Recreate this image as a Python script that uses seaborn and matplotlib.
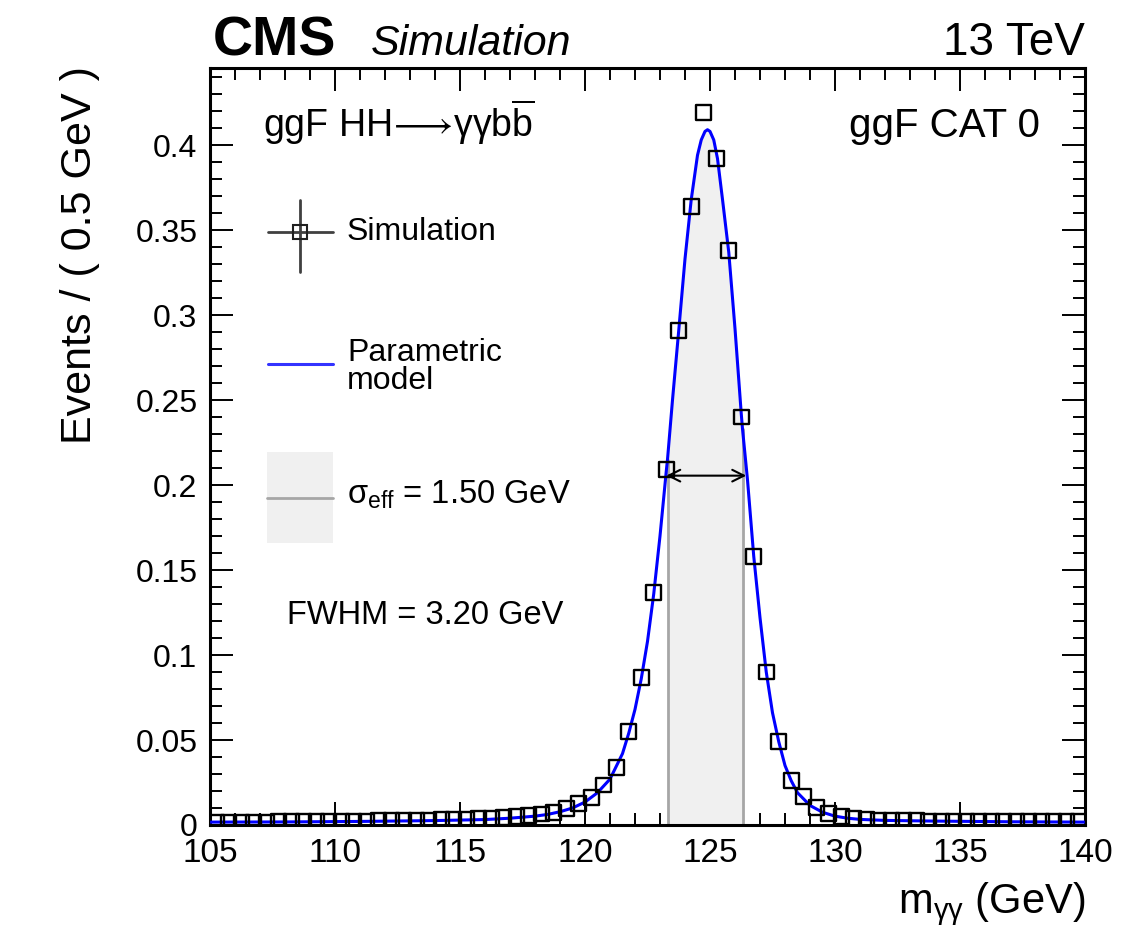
import numpy as np
import matplotlib
matplotlib.use("Agg")
import matplotlib.pyplot as plt
import seaborn as sns
from matplotlib.ticker import MultipleLocator, FuncFormatter
from matplotlib.patches import Rectangle

# ---------------- data ----------------
bin_centers = [105.25 + 0.5 * i for i in range(70)]
sim_values = [
    0.0015, 0.0016, 0.0016, 0.0017, 0.0017, 0.0018, 0.0019, 0.0019, 0.0020, 0.0021,
    0.0021, 0.0022, 0.0023, 0.0024, 0.0025, 0.0026, 0.0027, 0.0029, 0.0030, 0.0032,
    0.0034, 0.0036, 0.0039, 0.0043, 0.0048, 0.0055, 0.0065, 0.0075, 0.0095, 0.0125,
    0.0160, 0.0235, 0.0340, 0.0550, 0.0870, 0.1370, 0.2090, 0.2910, 0.3640, 0.4190,
    0.3920, 0.3380, 0.2400, 0.1580, 0.0900, 0.0490, 0.0260, 0.0170, 0.0105, 0.0068,
    0.0050, 0.0038, 0.0032, 0.0028, 0.0026, 0.0025, 0.0024, 0.0023, 0.0023, 0.0022,
    0.0021, 0.0021, 0.0020, 0.0020, 0.0019, 0.0019, 0.0019, 0.0018, 0.0018, 0.0018,
]

curve_x = [105, 108, 111, 114, 116, 117, 118, 118.5, 119, 119.5, 120, 120.5, 121,
           121.5, 121.75, 122.0, 122.25, 122.5, 122.75, 123.0, 123.25, 123.3, 123.5,
           123.75, 124.0, 124.25, 124.5, 124.65, 124.8, 124.9, 125.0, 125.15, 125.3,
           125.5, 125.75, 126.0, 126.25, 126.3, 126.5, 126.75, 127.0, 127.25, 127.5,
           127.75, 128.0, 128.25, 128.5, 129.0, 129.5, 130.0, 130.5, 131.0, 132.0,
           134.0, 137.0, 140.0]
curve_y = [0.0017, 0.0018, 0.0021, 0.0026, 0.0032, 0.0040, 0.0052, 0.0062, 0.0078,
           0.0100, 0.0135, 0.0190, 0.0270, 0.0420, 0.0540, 0.0680, 0.0860, 0.1080,
           0.1360, 0.1700, 0.2080, 0.2150, 0.2500, 0.2910, 0.3330, 0.3680, 0.3940,
           0.4030, 0.4080, 0.4090, 0.4080, 0.4030, 0.3920, 0.3680, 0.3370, 0.2920,
           0.2420, 0.2330, 0.2030, 0.1580, 0.1220, 0.0900, 0.0660, 0.0490, 0.0350,
           0.0260, 0.0190, 0.0115, 0.0075, 0.0052, 0.0040, 0.0033, 0.0027, 0.0023,
           0.0019, 0.0017]

sigma_eff_lo, sigma_eff_hi = 123.3, 126.3
fwhm_lo, fwhm_hi = 123.25, 126.45
half_max = 0.2055

x_ticks = [105, 110, 115, 120, 125, 130, 135, 140]
y_ticks = [0, 0.05, 0.1, 0.15, 0.2, 0.25, 0.3, 0.35, 0.4]

# ---------------- style ----------------
sns.set_theme(style="ticks")
plt.rcParams["font.family"] = ["Liberation Sans", "DejaVu Sans"]
plt.rcParams["mathtext.fontset"] = "custom"
plt.rcParams["mathtext.rm"] = "Liberation Sans"
plt.rcParams["mathtext.it"] = "Liberation Sans:italic"
plt.rcParams["mathtext.bf"] = "Liberation Sans:bold"
plt.rcParams["mathtext.fallback"] = "stixsans"
for key in ["text.color", "axes.labelcolor", "xtick.color", "ytick.color", "axes.edgecolor"]:
    plt.rcParams[key] = "black"

fig = plt.figure(figsize=(11.47, 9.34), dpi=100)
ax = fig.add_axes([210 / 1147, 1 - 825 / 934, 875 / 1147, 757 / 934])

# sigma_eff band
cx = np.array(curve_x)
cy = np.array(curve_y)
band = (cx >= sigma_eff_lo - 1e-9) & (cx <= sigma_eff_hi + 1e-9)
ax.fill_between(cx[band], 0, cy[band], color="#f0f0f0", lw=0, zorder=1)
edge_y = [cy[np.argmin(np.abs(cx - sigma_eff_lo))], cy[np.argmin(np.abs(cx - sigma_eff_hi))]]
for xe, ye in zip([sigma_eff_lo, sigma_eff_hi], edge_y):
    ax.plot([xe, xe], [0, ye], color="#a6a6a6", lw=2.0, zorder=2)

# FWHM arrow
ax.annotate("", xy=(fwhm_lo, half_max), xytext=(fwhm_hi, half_max),
            arrowprops=dict(arrowstyle="<->,head_length=0.7,head_width=0.35",
                            color="black", lw=1.5, shrinkA=0, shrinkB=0), zorder=4)

# model curve
sns.lineplot(x=curve_x, y=curve_y, ax=ax, color="#0000ff", lw=2.2,
             estimator=None, sort=False, zorder=3)

# simulation points
sns.scatterplot(x=bin_centers, y=sim_values, ax=ax, marker="s", s=115,
                fc="none", ec="black", linewidth=1.7, zorder=5)

ax.set_xlim(105, 140)
ax.set_ylim(0, 0.4453)
ax.set_xticks(x_ticks)
ax.set_yticks(y_ticks)
ax.xaxis.set_minor_locator(MultipleLocator(1))
ax.yaxis.set_minor_locator(MultipleLocator(0.01))
ax.yaxis.set_major_formatter(FuncFormatter(lambda v, p: "%g" % v))
ax.tick_params(which="both", direction="in", top=True, right=True, width=1.4, color="black",
               labelcolor="black")
ax.tick_params(which="major", length=16.5)
ax.tick_params(which="minor", length=8.5)
ax.tick_params(axis="x", which="major", labelsize=24, pad=9)
ax.tick_params(axis="y", which="major", labelsize=23, pad=9)
for sp in ax.spines.values():
    sp.set_linewidth(2.2)
    sp.set_color("black")
ax.set_xlabel("")
ax.set_ylabel("")

# axis titles
ax.text(-0.1486, 1.003, "Events / ( 0.5 GeV )", transform=ax.transAxes, rotation=90,
        ha="center", va="top", fontsize=31)
ax.text(1.0, -0.104, r"m$_{\mathregular{\gamma\gamma}}$ (GeV)", transform=ax.transAxes,
        ha="right", va="center", fontsize=30)

# header
fig.text(213 / 1147, 1 - 55 / 934, "CMS", fontsize=40, fontweight="bold", ha="left", va="baseline")
fig.text(371 / 1147, 1 - 55 / 934, "Simulation", fontsize=31, style="italic", ha="left", va="baseline")
fig.text(1085 / 1147, 1 - 55 / 934, "13 TeV", fontsize=33, ha="right", va="baseline")

ax.text(0.0606, 0.9089, r"ggF HH$\!\longrightarrow\!$γγb$\mathregular{\overline{b}}$",
        transform=ax.transAxes, fontsize=27, ha="left", va="baseline")
ax.text(0.9486, 0.9089, "ggF CAT 0", transform=ax.transAxes, fontsize=29, ha="right", va="baseline")

# legend (manual, ROOT style)
T = ax.transAxes
ax.plot([0.0663, 0.1406], [0.783, 0.783], color="#404040", lw=2.0, transform=T, clip_on=False)
ax.plot([0.1029, 0.1029], [0.7305, 0.826], color="#404040", lw=2.0, transform=T, clip_on=False)
ax.plot([0.1029], [0.783], marker="s", ms=10, mfc="none", mec="#202020", mew=1.5, transform=T)
ax.text(0.1566, 0.783, "Simulation", transform=T, fontsize=23, ha="left", va="center")

ax.plot([0.0663, 0.1406], [0.609, 0.609], color="#0000ff", lw=2.2, transform=T, alpha=0.8)
ax.text(0.1566, 0.605, "Parametric\nmodel", transform=T, fontsize=23, ha="left", va="center",
        linespacing=0.92)

ax.add_patch(Rectangle((0.0651, 0.3725), 0.0755, 0.1202, transform=T, facecolor="#f0f0f0",
                       edgecolor="none"))
ax.plot([0.0651, 0.1406], [0.432, 0.432], color="#a6a6a6", lw=2.0, transform=T)
ax.text(0.1566, 0.436, r"σ$_{\mathregular{eff}}$ = 1.50 GeV", transform=T, fontsize=23.5,
        ha="left", va="center")

ax.text(0.088, 0.2774, "FWHM = 3.20 GeV", transform=T, fontsize=23.5, ha="left", va="center")

fig.savefig("out.png", dpi=100)
